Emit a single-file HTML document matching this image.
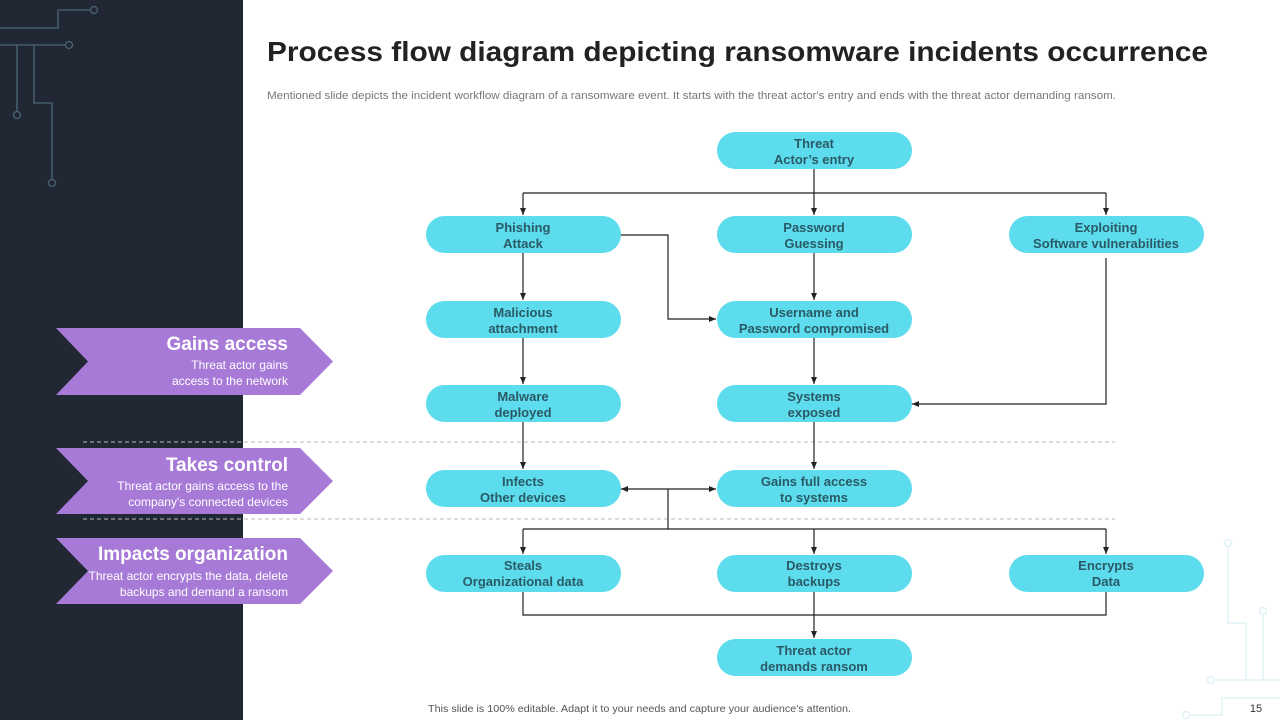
<!DOCTYPE html>
<html><head><meta charset="utf-8"><style>
html,body{margin:0;padding:0;width:1280px;height:720px;overflow:hidden;background:#fff}
svg{display:block}
text{font-family:"Liberation Sans",Arial,sans-serif}
.n{fill:#5cdcec}
.nt{font-size:13px;font-weight:bold;fill:#2a5a66;text-anchor:middle}
.c{stroke:#222;stroke-width:1.2;fill:none}
.ct{fill:#fff;text-anchor:end}
</style></head><body>
<svg width="1280" height="720" viewBox="0 0 1280 720">
<defs><marker id="a" markerWidth="8" markerHeight="8" refX="7" refY="4" orient="auto" markerUnits="userSpaceOnUse"><path d="M0,1 L7,4 L0,7 z" fill="#222"/></marker></defs>
<rect x="0" y="0" width="243" height="720" fill="#222833"/>
<!-- circuit top-left -->
<g stroke="#4a6575" stroke-width="1.3" fill="none">
<path d="M0,28 H58 V10 H91"/><circle cx="94" cy="10" r="3.5"/>
<path d="M0,45 H65"/><circle cx="69" cy="45" r="3.5"/>
<path d="M17,45 V111"/><circle cx="17" cy="115" r="3.5"/>
<path d="M34,45 V103 H52 V179"/><circle cx="52" cy="183" r="3.5"/>
</g>
<!-- circuit bottom-right -->
<g stroke="#dcf0f5" stroke-width="1.3" fill="none">
<path d="M1228,547 V623 H1246 V680 H1280"/><circle cx="1228" cy="543" r="3.5"/>
<path d="M1263,615 V680"/><circle cx="1263" cy="611" r="3.5"/>
<path d="M1214,680 H1246"/><circle cx="1211" cy="680" r="3.5"/>
<path d="M1190,715 H1222 V698 H1280"/><circle cx="1186" cy="715" r="3.5"/>
</g>
<text x="1256" y="712" font-size="11" fill="#333" text-anchor="middle">15</text>
<text x="267" y="61" font-size="28" font-weight="bold" fill="#222" textLength="941" lengthAdjust="spacingAndGlyphs">Process flow diagram depicting ransomware incidents occurrence</text>
<text x="267" y="99" font-size="11" fill="#777" textLength="849" lengthAdjust="spacingAndGlyphs">Mentioned slide depicts the incident workflow diagram of a ransomware event. It starts with the threat actor's entry and ends with the threat actor demanding ransom.</text>
<text x="428" y="712" font-size="10" fill="#555" textLength="423" lengthAdjust="spacingAndGlyphs">This slide is 100% editable. Adapt it to your needs and capture your audience's attention.</text>
<!-- dashed lines -->
<g stroke="#bbb" stroke-width="1" stroke-dasharray="4,3">
<path d="M83,442 H1115"/><path d="M83,519 H1115"/>
</g>
<!-- chevrons -->
<g fill="#a77ad8">
<path d="M56,328 H300 L333,361.5 L300,395 H56 L88,361.5 z"/>
<path d="M56,448 H300 L333,481 L300,514 H56 L88,481 z"/>
<path d="M56,538 H300 L333,571 L300,604 H56 L88,571 z"/>
</g>
<g class="ct">
<text x="288" y="350" font-size="19" font-weight="bold" class="ct">Gains access</text>
<text x="288" y="369" font-size="12" class="ct">Threat  actor gains</text>
<text x="288" y="385" font-size="12" class="ct">access to the network</text>
<text x="288" y="471" font-size="19" font-weight="bold" class="ct">Takes control</text>
<text x="288" y="490" font-size="12" class="ct">Threat  actor gains access to the</text>
<text x="288" y="506" font-size="12" class="ct">company's connected devices</text>
<text x="288" y="560" font-size="19" font-weight="bold" class="ct">Impacts organization</text>
<text x="288" y="580" font-size="12" class="ct">Threat  actor encrypts the data, delete</text>
<text x="288" y="596" font-size="12" class="ct">backups and demand a ransom</text>
</g>
<!-- connectors -->
<g class="c">
<path d="M814,169 V193"/>
<path d="M523,193 H1106"/>
<path d="M523,193 V215" marker-end="url(#a)"/>
<path d="M814,193 V215" marker-end="url(#a)"/>
<path d="M1106,193 V215" marker-end="url(#a)"/>
<path d="M620,235 H668 V319 H716" marker-end="url(#a)"/>
<path d="M523,253 V300" marker-end="url(#a)"/>
<path d="M814,253 V300" marker-end="url(#a)"/>
<path d="M523,338 V384" marker-end="url(#a)"/>
<path d="M814,338 V384" marker-end="url(#a)"/>
<path d="M1106,258 V404 H912" marker-end="url(#a)"/>
<path d="M523,422 V469" marker-end="url(#a)"/>
<path d="M814,422 V469" marker-end="url(#a)"/>
<path d="M668,489 H621" marker-end="url(#a)"/>
<path d="M668,489 H716" marker-end="url(#a)"/>
<path d="M668,489 V529"/>
<path d="M523,529 H1106"/>
<path d="M523,529 V554" marker-end="url(#a)"/>
<path d="M814,529 V554" marker-end="url(#a)"/>
<path d="M1106,529 V554" marker-end="url(#a)"/>
<path d="M523,592 V615 H1106 V592"/>
<path d="M814,592 V638" marker-end="url(#a)"/>
</g>
<!-- nodes -->
<g>
<rect class="n" x="717" y="132" width="195" height="37" rx="18.5"/>
<rect class="n" x="426" y="216" width="195" height="37" rx="18.5"/>
<rect class="n" x="717" y="216" width="195" height="37" rx="18.5"/>
<rect class="n" x="1009" y="216" width="195" height="37" rx="18.5"/>
<rect class="n" x="426" y="301" width="195" height="37" rx="18.5"/>
<rect class="n" x="717" y="301" width="195" height="37" rx="18.5"/>
<rect class="n" x="426" y="385" width="195" height="37" rx="18.5"/>
<rect class="n" x="717" y="385" width="195" height="37" rx="18.5"/>
<rect class="n" x="426" y="470" width="195" height="37" rx="18.5"/>
<rect class="n" x="717" y="470" width="195" height="37" rx="18.5"/>
<rect class="n" x="426" y="555" width="195" height="37" rx="18.5"/>
<rect class="n" x="717" y="555" width="195" height="37" rx="18.5"/>
<rect class="n" x="1009" y="555" width="195" height="37" rx="18.5"/>
<rect class="n" x="717" y="639" width="195" height="37" rx="18.5"/>
</g>
<g class="nt">
<text x="814" y="148" class="nt">Threat</text><text x="814" y="164" class="nt">Actor’s entry</text>
<text x="523" y="232" class="nt">Phishing</text><text x="523" y="248" class="nt">Attack</text>
<text x="814" y="232" class="nt">Password</text><text x="814" y="248" class="nt">Guessing</text>
<text x="1106" y="232" class="nt">Exploiting</text><text x="1106" y="248" class="nt">Software vulnerabilities</text>
<text x="523" y="317" class="nt">Malicious</text><text x="523" y="333" class="nt">attachment</text>
<text x="814" y="317" class="nt">Username and</text><text x="814" y="333" class="nt">Password compromised</text>
<text x="523" y="401" class="nt">Malware</text><text x="523" y="417" class="nt">deployed</text>
<text x="814" y="401" class="nt">Systems</text><text x="814" y="417" class="nt">exposed</text>
<text x="523" y="486" class="nt">Infects</text><text x="523" y="502" class="nt">Other devices</text>
<text x="814" y="486" class="nt">Gains full access</text><text x="814" y="502" class="nt">to systems</text>
<text x="523" y="570" class="nt">Steals</text><text x="523" y="586" class="nt">Organizational data</text>
<text x="814" y="570" class="nt">Destroys</text><text x="814" y="586" class="nt">backups</text>
<text x="1106" y="570" class="nt">Encrypts</text><text x="1106" y="586" class="nt">Data</text>
<text x="814" y="655" class="nt">Threat actor</text><text x="814" y="671" class="nt">demands ransom</text>
</g>
</svg>
</body></html>
